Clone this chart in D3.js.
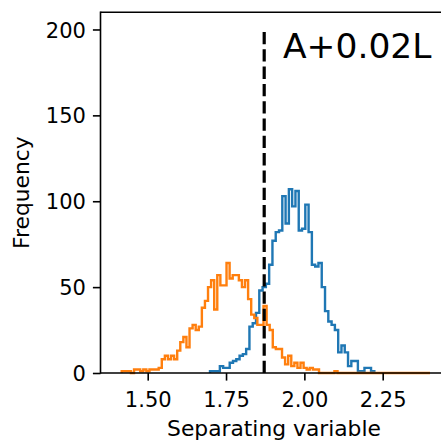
<!DOCTYPE html>
<html>
<head>
<meta charset="utf-8">
<script src="https://cdn.jsdelivr.net/npm/d3@7"></script>
<style>
  html, body { margin: 0; padding: 0; background: #fff; }
  svg { display: block; }
  text { font-family: "DejaVu Sans", sans-serif; fill: #000; }
</style>
</head>
<body>
<svg id="chart" width="441" height="441"></svg>
<script>
// ---- data ----
const xTicks = [1.50, 1.75, 2.00, 2.25];
const yTicks = [0, 50, 100, 150, 200];
const xLabel = "Separating variable";
const yLabel = "Frequency";
const annotation = "A+0.02L";
const cutValue = 1.8718;
const cutTop = 200;

// orange sample: 100 bins between these limits
const orangeRange = [1.417, 2.401];
const orangeCounts = [
  1, 1, 1, 0, 2, 2, 1, 2, 1, 2,
  2, 2, 3, 8, 10, 8, 10, 8, 13, 18,
  21, 15, 26, 28, 25, 27, 38, 42, 50, 54,
  37, 57, 51, 51, 64, 55, 57, 57, 54, 50,
  54, 43, 34, 32, 28, 28, 39, 28, 25, 15,
  14, 14, 9, 5, 10, 4, 6, 3, 6, 3,
  2, 3, 2, 2, 0, 0, 0, 0, 0, 1,
  0, 0, 0, 0, 0, 0, 0, 0, 0, 0,
  0, 0, 0, 0, 0, 0, 0, 0, 0, 0,
  0, 0, 0, 0, 0, 0, 0, 0, 0, 0
];

// blue sample: 50 bins between these limits
const blueRange = [1.6988, 2.2233];
const blueCounts = [
  1, 1, 1, 4, 3, 3, 6, 7, 8, 10,
  11, 14, 27, 29, 35, 48, 50, 52, 63, 77,
  82, 83, 103, 87, 107, 97, 106, 83, 84, 98,
  82, 63, 62, 64, 50, 36, 30, 28, 25, 12,
  16, 12, 4, 7, 7, 1, 1, 3, 3, 1
];

// ---- layout ----
const W = 441, H = 441;
const plotLeft = 100.5, plotTop = 12.3, plotBottom = 373;
const xDomain = [1.3493, 2.4568];
const pxPerUnit = 313.3;

const svg = d3.select("#chart");

const x = d3.scaleLinear()
  .domain(xDomain)
  .range([plotLeft, plotLeft + (xDomain[1] - xDomain[0]) * pxPerUnit]);
const y = d3.scaleLinear().domain([0, 210]).range([plotBottom, plotTop]);
const plotRight = x.range()[1];

svg.append("defs").append("clipPath").attr("id", "plotclip")
  .append("rect").attr("x", plotLeft).attr("y", plotTop - 2)
  .attr("width", W - plotLeft).attr("height", plotBottom - plotTop + 4);

function stepPoints(range, counts) {
  const n = counts.length;
  const w = (range[1] - range[0]) / n;
  const pts = [[range[0], 0]];
  counts.forEach((c, i) => {
    pts.push([range[0] + i * w, c]);
    pts.push([range[0] + (i + 1) * w, c]);
  });
  pts.push([range[1], 0]);
  return pts;
}

const line = d3.line().x(d => x(d[0])).y(d => y(d[1]));

const g = svg.append("g").attr("clip-path", "url(#plotclip)");

g.append("path")
  .attr("d", line(stepPoints(blueRange, blueCounts)))
  .attr("fill", "none")
  .attr("stroke", "#1f77b4")
  .attr("stroke-width", 2.4)
  .attr("stroke-linejoin", "miter");

g.append("path")
  .attr("d", line(stepPoints(orangeRange, orangeCounts)))
  .attr("fill", "none")
  .attr("stroke", "#ff7f0e")
  .attr("stroke-width", 2.4)
  .attr("stroke-linejoin", "miter");

// dashed cut line (pattern starts at the bottom, like the original)
g.append("line")
  .attr("x1", x(cutValue)).attr("x2", x(cutValue))
  .attr("y1", y(0)).attr("y2", y(cutTop))
  .attr("stroke", "#000")
  .attr("stroke-width", 3.2)
  .attr("stroke-dasharray", "12.3,5");

// spines
const spineW = 1.6;
svg.append("line").attr("x1", plotLeft).attr("x2", W)
  .attr("y1", plotTop).attr("y2", plotTop)
  .attr("stroke", "#000").attr("stroke-width", spineW);
svg.append("line").attr("x1", plotLeft).attr("x2", W)
  .attr("y1", plotBottom).attr("y2", plotBottom)
  .attr("stroke", "#000").attr("stroke-width", spineW);
svg.append("line").attr("x1", plotLeft).attr("x2", plotLeft)
  .attr("y1", plotTop - spineW / 2).attr("y2", plotBottom + spineW / 2)
  .attr("stroke", "#000").attr("stroke-width", spineW);

// axes
const tickLen = 7.6;
const xAxis = d3.axisBottom(x).tickValues(xTicks).tickFormat(d3.format(".2f"))
  .tickSize(tickLen).tickPadding(6);
const yAxis = d3.axisLeft(y).tickValues(yTicks).tickFormat(d3.format("d"))
  .tickSize(tickLen).tickPadding(7);

const gx = svg.append("g").attr("transform", `translate(0,${plotBottom})`).call(xAxis);
const gy = svg.append("g").attr("transform", `translate(${plotLeft},0)`).call(yAxis);
[gx, gy].forEach(a => {
  a.select(".domain").remove();
  a.selectAll(".tick line").attr("stroke", "#000").attr("stroke-width", 1.6);
  a.selectAll(".tick text").attr("font-family", "DejaVu Sans").attr("font-size", 21).attr("fill", "#000");
});
gx.selectAll(".tick text").attr("dy", null).attr("y", null)
  .attr("transform", `translate(0,${406.5 - plotBottom})`);
gy.selectAll(".tick text").attr("dy", "0.36em");

// axis labels (centred on the full axes width, which runs past the image edge)
svg.append("text")
  .attr("x", (plotLeft + plotRight) / 2)
  .attr("y", 436)
  .attr("text-anchor", "middle")
  .attr("font-size", 21.8)
  .text(xLabel);

svg.append("text")
  .attr("transform", `translate(28.6,${(plotTop + plotBottom) / 2}) rotate(-90)`)
  .attr("text-anchor", "middle")
  .attr("font-size", 21.8)
  .text(yLabel);

// annotation
svg.append("text")
  .attr("x", 283)
  .attr("y", 58.3)
  .attr("font-size", 34.5)
  .text(annotation);
</script>
</body>
</html>
